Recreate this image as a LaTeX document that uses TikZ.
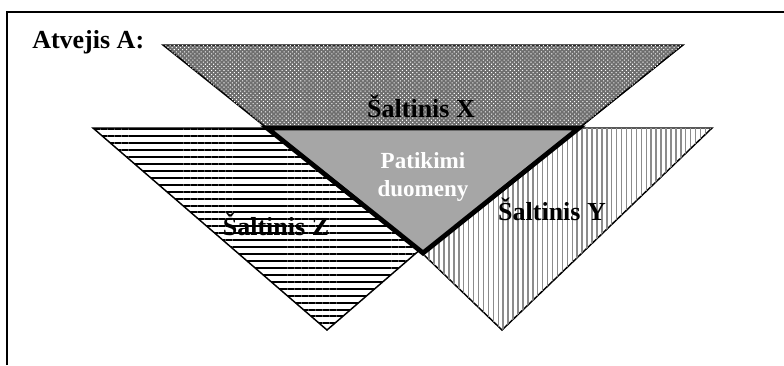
\documentclass[tikz,border=0pt]{standalone}
\usepackage{fontspec}
\setmainfont{Liberation Serif}
\usetikzlibrary{patterns.meta}
\definecolor{trustbg}{RGB}{166,166,166}
\definecolor{dotbg}{RGB}{110,110,110}
\definecolor{vstripe}{RGB}{140,140,140}
\tikzset{
  srcedge/.style={draw=black, line width=1.1pt, line join=miter},
  srcX/.style={srcedge, fill=dotbg,
               postaction={pattern={Dots[radius=0.55pt, distance=2.2pt, angle=45]}, pattern color=white}},
  srcZ/.style={srcedge, fill=white,
               postaction={pattern={Lines[angle=0, distance=5.2pt, line width=1.5pt]}, pattern color=black}},
  srcY/.style={srcedge, fill=white,
               postaction={pattern={Lines[angle=90, distance=3.7pt, line width=1.1pt]}, pattern color=vstripe}},
  trustarea/.style={draw=black, line width=3.6pt, fill=trustbg, line join=miter},
  srclabel/.style={font=\fontsize{19.5}{22}\selectfont\bfseries, anchor=base, inner sep=0pt},
  caselabel/.style={font=\fontsize{19.5}{22}\selectfont\bfseries, anchor=base west, inner sep=0pt},
  trustlabel/.style={font=\fontsize{17.3}{21.5}\selectfont\bfseries, text=white, align=center, inner sep=0pt},
}

\begin{document}
\begin{tikzpicture}[x=0.75pt, y=-0.75pt]
  \useasboundingbox (0,0) rectangle (784,365);
  % frame
  \draw[line width=1.5pt] (7,365) -- (7,12) -- (784,12);
  \node[caselabel] (caseA) at (32,48) {Atvejis A:};

  % source triangles
  \coordinate (xa) at (163,45);  \coordinate (xb) at (683,45);  \coordinate (xc) at (423,253);
  \coordinate (za) at (93,128);  \coordinate (zb) at (561,128); \coordinate (zc) at (327,330);
  \coordinate (ya) at (292,128); \coordinate (yb) at (712,128); \coordinate (yc) at (502,330);
  \draw[srcX] (xa) -- (xb) -- (xc) -- cycle;
  \draw[srcZ] (za) -- (zb) -- (zc) -- cycle;
  \draw[srcY] (ya) -- (yb) -- (yc) -- cycle;

  % overlap of all three
  \coordinate (ta) at (267,128); \coordinate (tb) at (579,128);
  \draw[trustarea] (ta) -- (tb) -- (xc) -- cycle;

  \node[srclabel] (srcx) at (421,117) {Šaltinis X};
  \node[srclabel] (srcz) at (276,235) {Šaltinis Z};
  \node[srclabel] (srcy) at (552,220) {Šaltinis Y};
  \node[trustlabel] (trust) at (423,177) {Patikimi\\duomeny};
\end{tikzpicture}
\end{document}
